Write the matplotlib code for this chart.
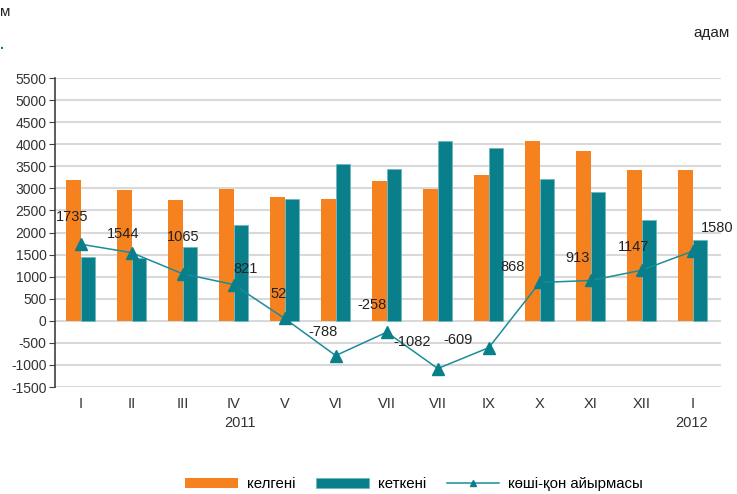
import numpy as np
import matplotlib
matplotlib.use('Agg')
import matplotlib.pyplot as plt

plt.rcParams['font.family'] = ['Liberation Sans', 'DejaVu Sans']
plt.rcParams['font.size'] = 10
plt.rcParams['axes.unicode_minus'] = False

# данные
months = ['I', 'II', 'III', 'IV', 'V', 'VI', 'VII', 'VII', 'IX', 'X', 'XI', 'XII', 'I']
arrived = [3190, 2970, 2745, 2990, 2810, 2765, 3170, 2990, 3300, 4075, 3835, 3425, 3420]
departed = [1455, 1426, 1680, 2169, 2758, 3553, 3428, 4072, 3909, 3207, 2922, 2278, 1840]
net = [1735, 1544, 1065, 821, 52, -788, -258, -1082, -609, 868, 913, 1147, 1580]
# смещения подписей (px)
label_dx = [-8, -8, 1, 12, -6, -13, -15, -26, -31, -27, -13, -8, 24]
label_dy = [27, 19, 37, 16, 24, 24, 27, 27, 8, 15, 22, 23, 23]

orange = '#F5821F'
teal = '#0A7F8C'
line_c = '#1A8C9C'

fig = plt.figure(figsize=(7.37, 4.94), dpi=100)
ax = fig.add_axes([55 / 737, 1 - 387 / 494, 666 / 737, 309 / 494])

x = np.arange(len(months))
w = 0.285
b1 = ax.bar(x - w / 2, arrived, w, color=orange, label='келгені', zorder=2)
b2 = ax.bar(x + w / 2, departed, w, color=teal, edgecolor='#6fb7bf', linewidth=0.6,
            label='кеткені', zorder=2)
ln, = ax.plot(x, net, color=line_c, lw=1.1, marker='^', markersize=8,
              markerfacecolor=teal, markeredgecolor=teal, label='көші-қон айырмасы', zorder=3)

for xi, v, dx, dy in zip(x, net, label_dx, label_dy):
    ax.annotate(str(v), (xi, v), xytext=(dx * 0.72, dy * 0.72), textcoords='offset points',
                ha='center', va='center', fontsize=10.5, color='#222222', zorder=4)

ax.set_xlim(-0.5, len(months) - 0.5 + 0.05)
ax.set_ylim(-1500, 5500)
ax.set_yticks(np.arange(-1500, 5501, 500))
ax.set_xticks(x)
ax.set_xticklabels(months, color='#333333', fontsize=10.5)
ax.tick_params(axis='x', length=0, pad=7)
ax.tick_params(axis='y', length=4, color='#404040', direction='out', pad=2, labelcolor='#333333')
ax.grid(axis='y', color='#d9d9d9', lw=1.5, zorder=0)
ax.set_axisbelow(True)
for s in ['top', 'right', 'bottom']:
    ax.spines[s].set_visible(False)
ax.spines['left'].set_color('#404040')
ax.spines['left'].set_linewidth(1.2)

fig.text(240 / 737, 1 - 423 / 494, '2011', ha='center', va='center', color='#333333', fontsize=10.5)
fig.text(692 / 737, 1 - 423 / 494, '2012', ha='center', va='center', color='#333333', fontsize=10.5)
fig.text(712 / 737, 1 - 33 / 494, 'адам', ha='center', va='center', fontsize=11, color='#222222')
fig.text(0.0, 1 - 12 / 494, 'м', ha='left', va='center', fontsize=11, color='#222222')
fig.text(0.0, 1 - 45 / 494, '.', ha='left', va='center', fontsize=10, color=teal, fontweight='bold')

fig.legend([b1, b2, ln], ['келгені', 'кеткені', 'көші-қон айырмасы'],
           loc='center', bbox_to_anchor=(0.562, 1 - 484 / 494), ncol=3, frameon=False,
           handlelength=3.5, handletextpad=0.6, columnspacing=1.4, fontsize=10.8,
           markerscale=0.6)

fig.savefig('out.png', dpi=100)
